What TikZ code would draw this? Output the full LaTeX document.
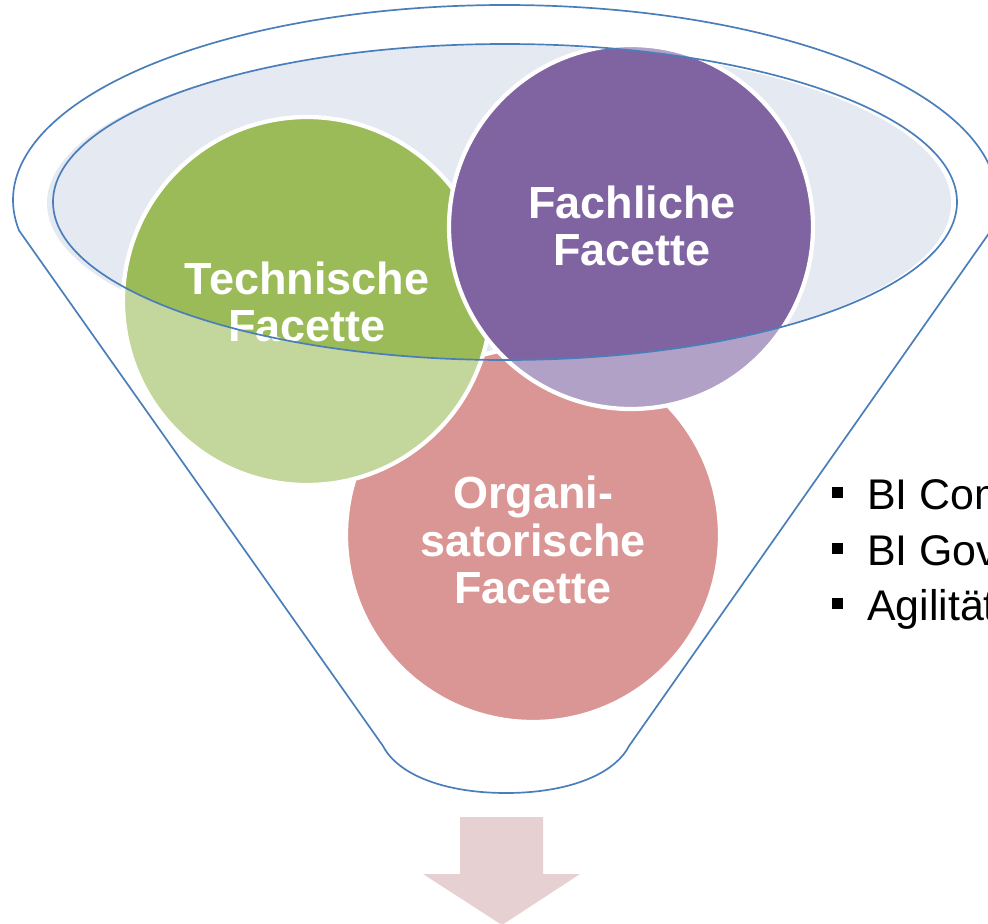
\documentclass[tikz,border=0pt]{standalone}
\usepackage{fontspec}
\setmainfont{Liberation Sans}
\definecolor{funnelblue}{HTML}{4A7EBB}
\definecolor{bowlfill}{HTML}{E4E9F2}
\definecolor{techgreen}{HTML}{9BBB59}
\definecolor{techlight}{HTML}{C3D69B}
\definecolor{fachpurple}{HTML}{8064A2}
\definecolor{fachlight}{HTML}{B1A1C7}
\definecolor{orgapink}{HTML}{DA9694}
\definecolor{arrowpink}{HTML}{E7D0D1}
\newcommand{\sqbullet}{\rule[7.8pt]{7.8pt}{7.8pt}}
\begin{document}
\begin{tikzpicture}[x=0.025cm,y=-0.025cm,
  facet/.style={font=\bfseries\fontsize{32}{33.5}\selectfont,text=white,align=center},
  item/.style={anchor=base west,inner sep=0pt,font=\fontsize{30.5}{36}\selectfont},
  rim/.style={funnelblue,line width=1.2pt,line join=round},
  ring/.style={white,line width=3pt}]
\useasboundingbox (0,0) rectangle (988,923);
\clip (0,0) rectangle (988,923);
% funnel body
\draw[rim] (19.06,230.5)--(383,746) .. controls (398,775) and (445,793) .. (506,793)
  .. controls (567,793) and (614,775) .. (629,746)--(990.94,230.5)
  arc[start angle=9,end angle=-189,x radius=492,y radius=195]--cycle;
\fill[bowlfill] (499,203) ellipse[x radius=452,y radius=158];
% facets
\fill[orgapink] (533,535) circle[radius=187];
\draw[ring] (533,535) circle[radius=187];
\fill[techlight] (307,301) circle[radius=184];
\begin{scope}
\clip (505,202) ellipse[x radius=452,y radius=158];
\fill[techgreen] (307,301) circle[radius=184];
\end{scope}
\draw[ring] (307,301) circle[radius=184];
\fill[fachlight] (631,227) circle[radius=182];
\begin{scope}
\clip (505,202) ellipse[x radius=452,y radius=158];
\fill[fachpurple] (631,227) circle[radius=182];
\end{scope}
\draw[ring] (631,227) circle[radius=182];
\node[facet] (tech) at (307,302) {Technische\\Facette};
\node[facet] (fach) at (632,226) {Fachliche\\Facette};
\node[facet] (orga) at (533,540) {Organi-\\satorische\\Facette};
% bowl rim
\draw[rim] (505,202) ellipse[x radius=452,y radius=158];
% list
\foreach \y/\txt [count=\i] in {509/BI Com,565/BI Gov,620/Agilität}
  \node[item] (item\i) at (832,\y) {\sqbullet\hspace{17pt}\txt};
% arrow
\fill[arrowpink] (460,817)--(543,817)--(543,874)--(580,874)--(502,925)--(423,874)--(460,874)--cycle;
\end{tikzpicture}
\end{document}
